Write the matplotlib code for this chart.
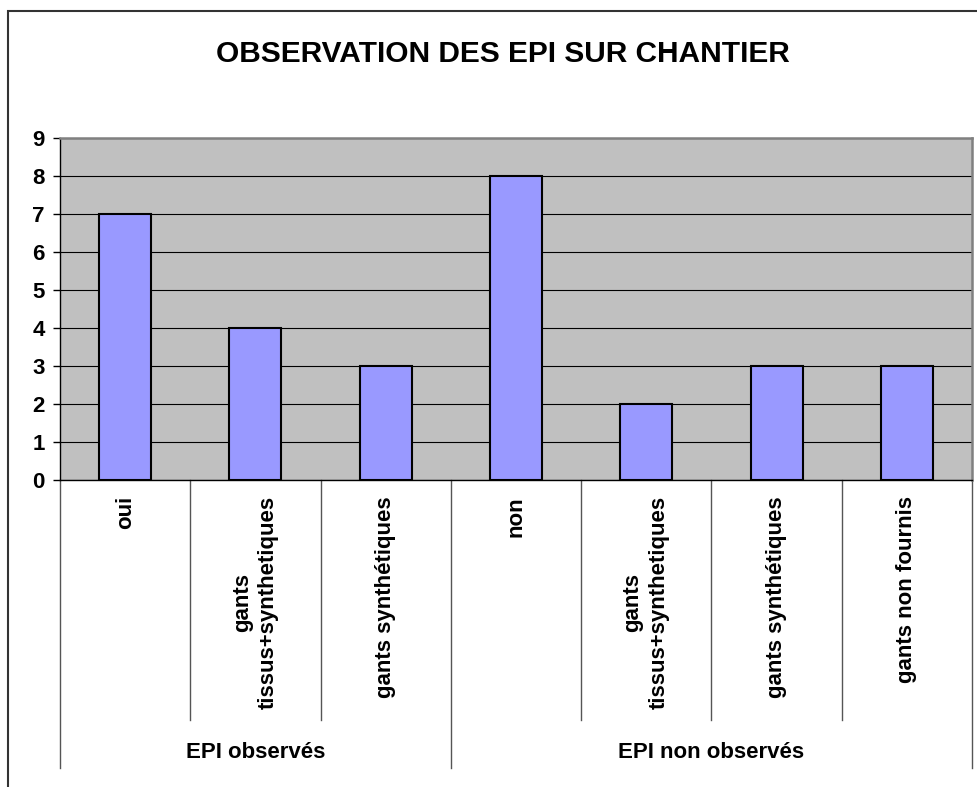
import matplotlib
matplotlib.use("Agg")
import matplotlib.pyplot as plt
from matplotlib.patches import Rectangle
import matplotlib.transforms as mtransforms

plt.rcParams['font.family'] = ['Liberation Sans', 'DejaVu Sans']
plt.rcParams['font.weight'] = 'bold'

title = "OBSERVATION DES EPI SUR CHANTIER"
categories = ["oui", "gants\ntissus+synthetiques", "gants synthétiques",
              "non", "gants\ntissus+synthetiques", "gants synthétiques",
              "gants non fournis"]
values = [7, 4, 3, 8, 2, 3, 3]
groups = ["EPI observés", "EPI non observés"]
group_sizes = [3, 4]
yticks = list(range(0, 10))

W, H = 977, 787
fig = plt.figure(figsize=(W / 100, H / 100), dpi=100)
fig.patch.set_facecolor('white')

# outer chart frame
fig.patches.append(Rectangle((8 / W, -0.1), 1.2, 1 - 11 / H + 0.1,
                             transform=fig.transFigure, fill=False,
                             edgecolor='#333333', linewidth=1.5))

ax = fig.add_axes([60 / W, 1 - 480 / H, (972 - 60) / W, (480 - 138) / H])
ax.set_facecolor('#C0C0C0')

x = list(range(len(values)))
ax.bar(x, values, width=0.4, color='#9999FF', edgecolor='black',
       linewidth=1.5, zorder=3)

ax.set_xlim(-0.5, len(values) - 0.5)
ax.set_ylim(0, 9)
ax.set_yticks(yticks)
ax.set_yticklabels([str(v) for v in yticks], fontsize=16, fontweight='bold')
ax.tick_params(axis='y', length=5, width=1, pad=6, color='black')
ax.yaxis.grid(True, color='black', linewidth=0.8, zorder=1)
ax.set_axisbelow(True)

ax.set_xticks([])
for s in ['top', 'right']:
    ax.spines[s].set_color('#808080')
    ax.spines[s].set_linewidth(1.8)
for s in ['left', 'bottom']:
    ax.spines[s].set_color('black')
    ax.spines[s].set_linewidth(1)

trans = mtransforms.blended_transform_factory(ax.transData, ax.transAxes)
axh = 480 - 138
y_inner = -(720 - 480) / axh
y_group = -(768 - 480) / axh

# category labels
for i, lab in enumerate(categories):
    ax.text(i, -(496 - 480) / axh, lab, rotation=90, ha='center', va='top',
            fontsize=16, fontweight='bold', transform=trans,
            multialignment='center', linespacing=1.35)

# separators
group_bounds = [-0.5]
acc = -0.5
for g in group_sizes:
    acc += g
    group_bounds.append(acc)
for b in [i + 0.5 for i in range(len(values) - 1)]:
    if b in group_bounds:
        continue
    ax.plot([b, b], [0, y_inner], color='#555555', linewidth=1,
            transform=trans, clip_on=False)
for b in group_bounds:
    ax.plot([b, b], [0, y_group], color='#555555', linewidth=1,
            transform=trans, clip_on=False)

# group labels
for gi, g in enumerate(groups):
    c = (group_bounds[gi] + group_bounds[gi + 1]) / 2
    ax.text(c, -(752 - 480) / axh, g, ha='center', va='center',
            fontsize=16, fontweight='bold', transform=trans)

fig.text(503 / W, 1 - 54 / H, title, ha='center', va='center',
         fontsize=21.5, fontweight='bold')

fig.savefig("out.png", dpi=100)
